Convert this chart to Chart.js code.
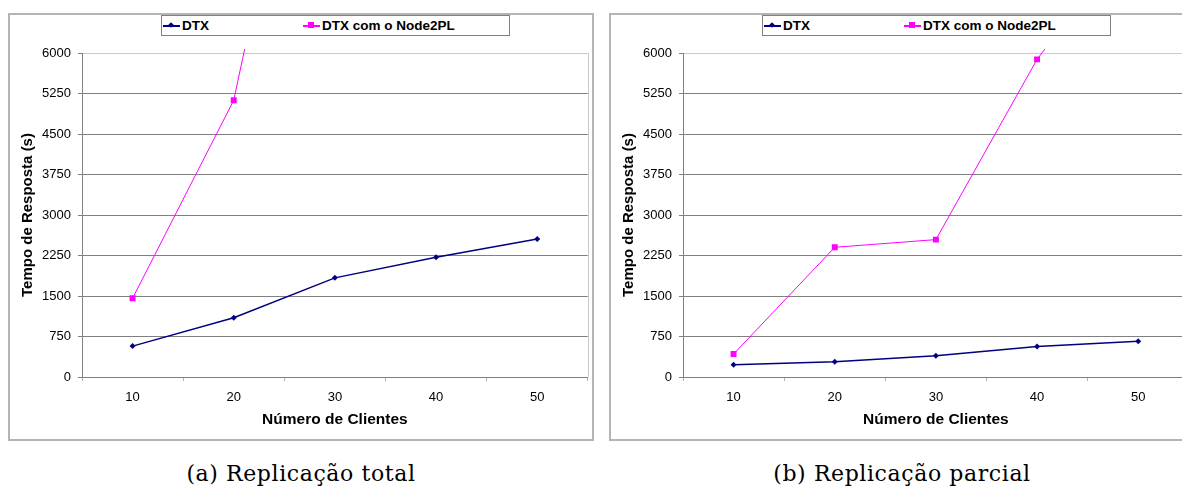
<!DOCTYPE html>
<html>
<head>
<meta charset="utf-8">
<script src="https://cdn.jsdelivr.net/npm/chart.js@4.4.1/dist/chart.umd.min.js"></script>
<style>
body{margin:0;background:#fff;width:1182px;height:489px;overflow:hidden;position:relative;font-family:"Liberation Sans",Arial,sans-serif;}
.frame{position:absolute;top:13px;width:586px;height:428px;box-sizing:border-box;border:2px solid #b4b4b4;}
.frame canvas{position:absolute;left:0;top:0;}
.legend{position:absolute;left:151px;top:0;width:349px;height:21px;box-sizing:border-box;border:1px solid #808080;background:#fff;}
.item{position:absolute;top:0;height:19px;display:flex;align-items:center;font:bold 13.5px "Liberation Sans",Arial,sans-serif;}
.sym{position:relative;width:17px;height:19px;margin-right:2px;}
.sym .ln{position:absolute;left:0;top:9px;width:17px;height:1.5px;}
.sym .mk{position:absolute;}
.caption{position:absolute;top:461px;width:586px;text-align:center;font:22px "DejaVu Serif",serif;letter-spacing:0.6px;color:#000;}
</style>
</head>
<body>
<div class="frame" id="fa" style="left:8px"><canvas id="chartA" width="582" height="424"></canvas></div>
<div class="frame" id="fb" style="left:609px"><canvas id="chartB" width="582" height="424"></canvas></div>
<div class="caption" style="left:8px">(a) Replicação total</div>
<div class="caption" style="left:609px">(b) Replicação parcial</div>
<script>
const clientes = ["10","20","30","40","50"];
const yTicks = [0,750,1500,2250,3000,3750,4500,5250,6000];
const nomes = ["DTX","DTX com o Node2PL"];
const cores = ["#000080","#ff00ff"];

// (a) replicacao total
const dtxTotal = [572,1096,1836,2217,2557];
const node2plTotal = [1457,5125,13900,null,null];
// (b) replicacao parcial
const dtxParcial = [229,284,395,567,660];
const node2plParcial = [425,2402,2544,5882,8350];

const plotBorder = {
  id:"plotBorder",
  beforeDatasetsDraw(chart){
    const a=chart.chartArea, ctx=chart.ctx;
    ctx.save();
    ctx.strokeStyle="#c8c8c8";
    ctx.lineWidth=1;
    ctx.beginPath();
    ctx.moveTo(Math.round(a.right)+0.5,a.top);
    ctx.lineTo(Math.round(a.right)+0.5,a.bottom);
    ctx.stroke();
    ctx.restore();
  }
};

function makeLegend(frameId){
  const box=document.createElement("div");
  box.className="legend";
  nomes.forEach((n,i)=>{
    const it=document.createElement("div");
    it.className="item";
    it.style.left=(i==0?1:141)+"px";
    const mk = i==0
      ? `<span class="mk" style="left:6px;top:7px;width:4px;height:4px;background:${cores[i]};transform:rotate(45deg)"></span>`
      : `<span class="mk" style="left:5px;top:6px;width:6px;height:6px;background:${cores[i]}"></span>`;
    it.innerHTML=`<span class="sym"><span class="ln" style="background:${cores[i]}"></span>${mk}</span>${n}`;
    box.appendChild(it);
  });
  document.getElementById(frameId).appendChild(box);
}

function makeChart(id,dtx,node){
  return new Chart(document.getElementById(id),{
    type:"line",
    data:{
      labels:clientes,
      datasets:[
        {label:nomes[0],data:dtx,borderColor:cores[0],backgroundColor:cores[0],borderWidth:1.5,
         pointStyle:"rectRot",pointRadius:3,pointBorderWidth:0,clip:{left:5,top:4,right:5,bottom:5}},
        {label:nomes[1],data:node,borderColor:cores[1],backgroundColor:cores[1],borderWidth:1,
         pointStyle:"rect",pointRadius:4.2,pointBorderWidth:0,clip:{left:5,top:4,right:5,bottom:5}}
      ]
    },
    options:{
      responsive:false,
      animation:false,
      devicePixelRatio:1,
      layout:{padding:{top:38,right:4,left:0,bottom:0}},
      plugins:{legend:{display:false},tooltip:{enabled:false}},
      scales:{
        x:{
          offset:true,
          grid:{offset:true,drawOnChartArea:false,tickLength:4,tickColor:"#b0b0b0"},
          border:{color:"#808080"},
          ticks:{color:"#000",padding:9,font:{family:"Liberation Sans",size:13}},
          title:{display:true,text:"Número de Clientes",color:"#000",padding:{top:0,bottom:10},
                 font:{family:"Liberation Sans",size:15.5,weight:"bold"}},
          afterFit(s){s.height=62;}
        },
        y:{
          min:0,max:6000,
          afterBuildTicks(s){s.ticks=yTicks.map(v=>({value:v}));},
          grid:{color:c=>c.tick && c.tick.value==6000?"#c8c8c8":"#808080",tickColor:"#808080",tickLength:4},
          border:{color:"#808080"},
          ticks:{color:"#000",padding:7,font:{family:"Liberation Sans",size:13},callback:v=>String(v)},
          title:{display:true,text:"Tempo de Resposta (s)",color:"#000",padding:{top:9,bottom:0},
                 font:{family:"Liberation Sans",size:15,weight:"bold"}},
          afterFit(s){s.width=72;}
        }
      }
    },
    plugins:[plotBorder]
  });
}

makeChart("chartA",dtxTotal,node2plTotal);
makeChart("chartB",dtxParcial,node2plParcial);
makeLegend("fa");
makeLegend("fb");
</script>
</body>
</html>
